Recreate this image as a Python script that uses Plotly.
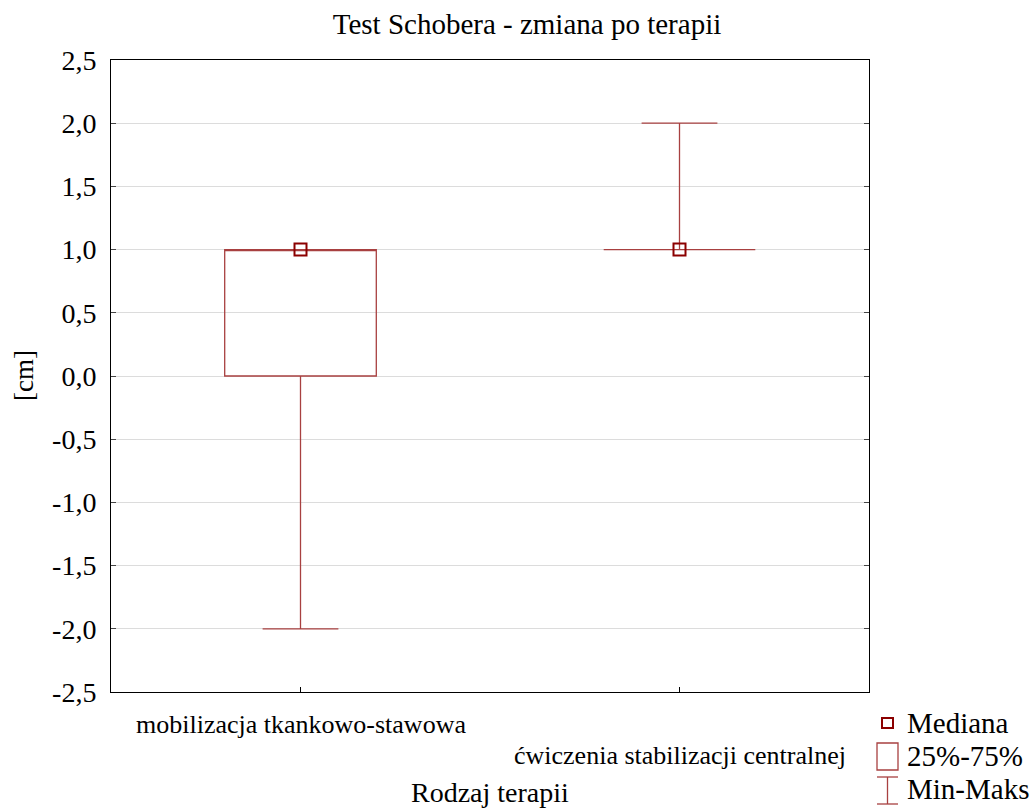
import plotly.graph_objects as go

categories = ["mobilizacja tkankowo-stawowa", "ćwiczenia stabilizacji centralnej"]
q1_vals = [0.0, 1.0]
median_vals = [1.0, 1.0]
q3_vals = [1.0, 1.0]
min_vals = [-2.0, 1.0]
max_vals = [1.0, 2.0]
y_ticks = [-2.5, -2.0, -1.5, -1.0, -0.5, 0.0, 0.5, 1.0, 1.5, 2.0, 2.5]
y_tick_labels = [f"{v:.1f}".replace(".", ",") for v in y_ticks]
legend_labels = ["Mediana", "25%-75%", "Min-Maks"]

BOX_COLOR = "#A84040"
MED_COLOR = "#8B0000"
FONT = "'Liberation Serif', 'Times New Roman', serif"

fig = go.Figure()
fig.add_trace(go.Box(
    x=categories, q1=q1_vals, median=median_vals, q3=q3_vals,
    lowerfence=min_vals, upperfence=max_vals,
    width=0.4, whiskerwidth=0.5,
    line=dict(color=BOX_COLOR, width=1.3),
    fillcolor="rgba(255,255,255,0)",
    boxpoints=False, showlegend=False, hoverinfo="skip",
))
fig.add_trace(go.Scatter(
    x=categories, y=median_vals, mode="markers",
    marker=dict(symbol="square-open", size=12, color=MED_COLOR, line=dict(width=2, color=MED_COLOR)),
    showlegend=False, hoverinfo="skip",
))

W, H = 1032, 811
L, R, T, B = 111, 869, 60, 692

fig.update_layout(
    width=W, height=H,
    margin=dict(l=L, r=W - R, t=T, b=H - B),
    paper_bgcolor="white", plot_bgcolor="white",
    font=dict(family=FONT, size=28, color="black"),
    title=dict(text="Test Schobera - zmiana po terapii", x=527 / W, xanchor="center",
               y=1 - 24 / H, yanchor="middle", yref="container",
               font=dict(family=FONT, size=29, color="black")),
    showlegend=False,
)
fig.update_xaxes(
    type="category", range=[-0.5, 1.5],
    showline=True, linecolor="black", linewidth=1, mirror=True,
    ticks="inside", ticklen=5, tickcolor="black",
    showticklabels=False, showgrid=False, zeroline=False,
)
fig.update_yaxes(
    range=[-2.5, 2.5], tickvals=y_ticks, ticktext=y_tick_labels,
    showline=True, linecolor="black", linewidth=1, mirror="ticks",
    ticks="inside", ticklen=5, tickcolor="#444",
    showgrid=True, gridcolor="#dcdcdc", gridwidth=1, zeroline=False,
    tickfont=dict(family=FONT, size=28, color="black"), ticklabelstandoff=8,
)

def px(x):
    return (x - L) / (R - L)

def py(y):
    return (B - y) / (B - T)

# y-axis title
fig.add_annotation(x=px(24), y=py(376), xref="paper", yref="paper",
                   xanchor="center", yanchor="middle", textangle=-90,
                   text="[cm]", showarrow=False,
                   font=dict(family=FONT, size=27, color="black"))

# staggered category labels
fig.add_annotation(x=categories[0], y=0, xref="x", yref="paper", yanchor="top",
                   yshift=-16, text=categories[0], showarrow=False,
                   font=dict(family=FONT, size=26, color="black"))
fig.add_annotation(x=categories[1], y=0, xref="x", yref="paper", yanchor="top",
                   yshift=-47, text=categories[1], showarrow=False,
                   font=dict(family=FONT, size=26, color="black"))
fig.add_annotation(x=0.5, y=py(810), xref="paper", yref="paper", yanchor="bottom",
                   text="Rodzaj terapii", showarrow=False,
                   font=dict(family=FONT, size=28, color="black"))

# custom legend
leg_y = [723, 756, 789]
for lbl, yy in zip(legend_labels, leg_y):
    fig.add_annotation(x=px(905), y=py(yy), xref="paper", yref="paper",
                       xanchor="left", yanchor="middle", text=lbl, showarrow=False,
                       font=dict(family=FONT, size=29, color="black"))
# Mediana symbol
fig.add_shape(type="rect", xref="paper", yref="paper",
              x0=px(882), x1=px(893), y0=py(728), y1=py(718),
              line=dict(color=MED_COLOR, width=2))
# box symbol
fig.add_shape(type="rect", xref="paper", yref="paper",
              x0=px(877), x1=px(898), y0=py(770), y1=py(743),
              line=dict(color=BOX_COLOR, width=1.3))
# whisker symbol
fig.add_shape(type="line", xref="paper", yref="paper",
              x0=px(887.5), x1=px(887.5), y0=py(777), y1=py(804),
              line=dict(color=BOX_COLOR, width=1.3))
fig.add_shape(type="line", xref="paper", yref="paper",
              x0=px(877), x1=px(898), y0=py(777), y1=py(777),
              line=dict(color=BOX_COLOR, width=1.3))
fig.add_shape(type="line", xref="paper", yref="paper",
              x0=px(877), x1=px(898), y0=py(804), y1=py(804),
              line=dict(color=BOX_COLOR, width=1.3))

fig.write_html("out.html")
